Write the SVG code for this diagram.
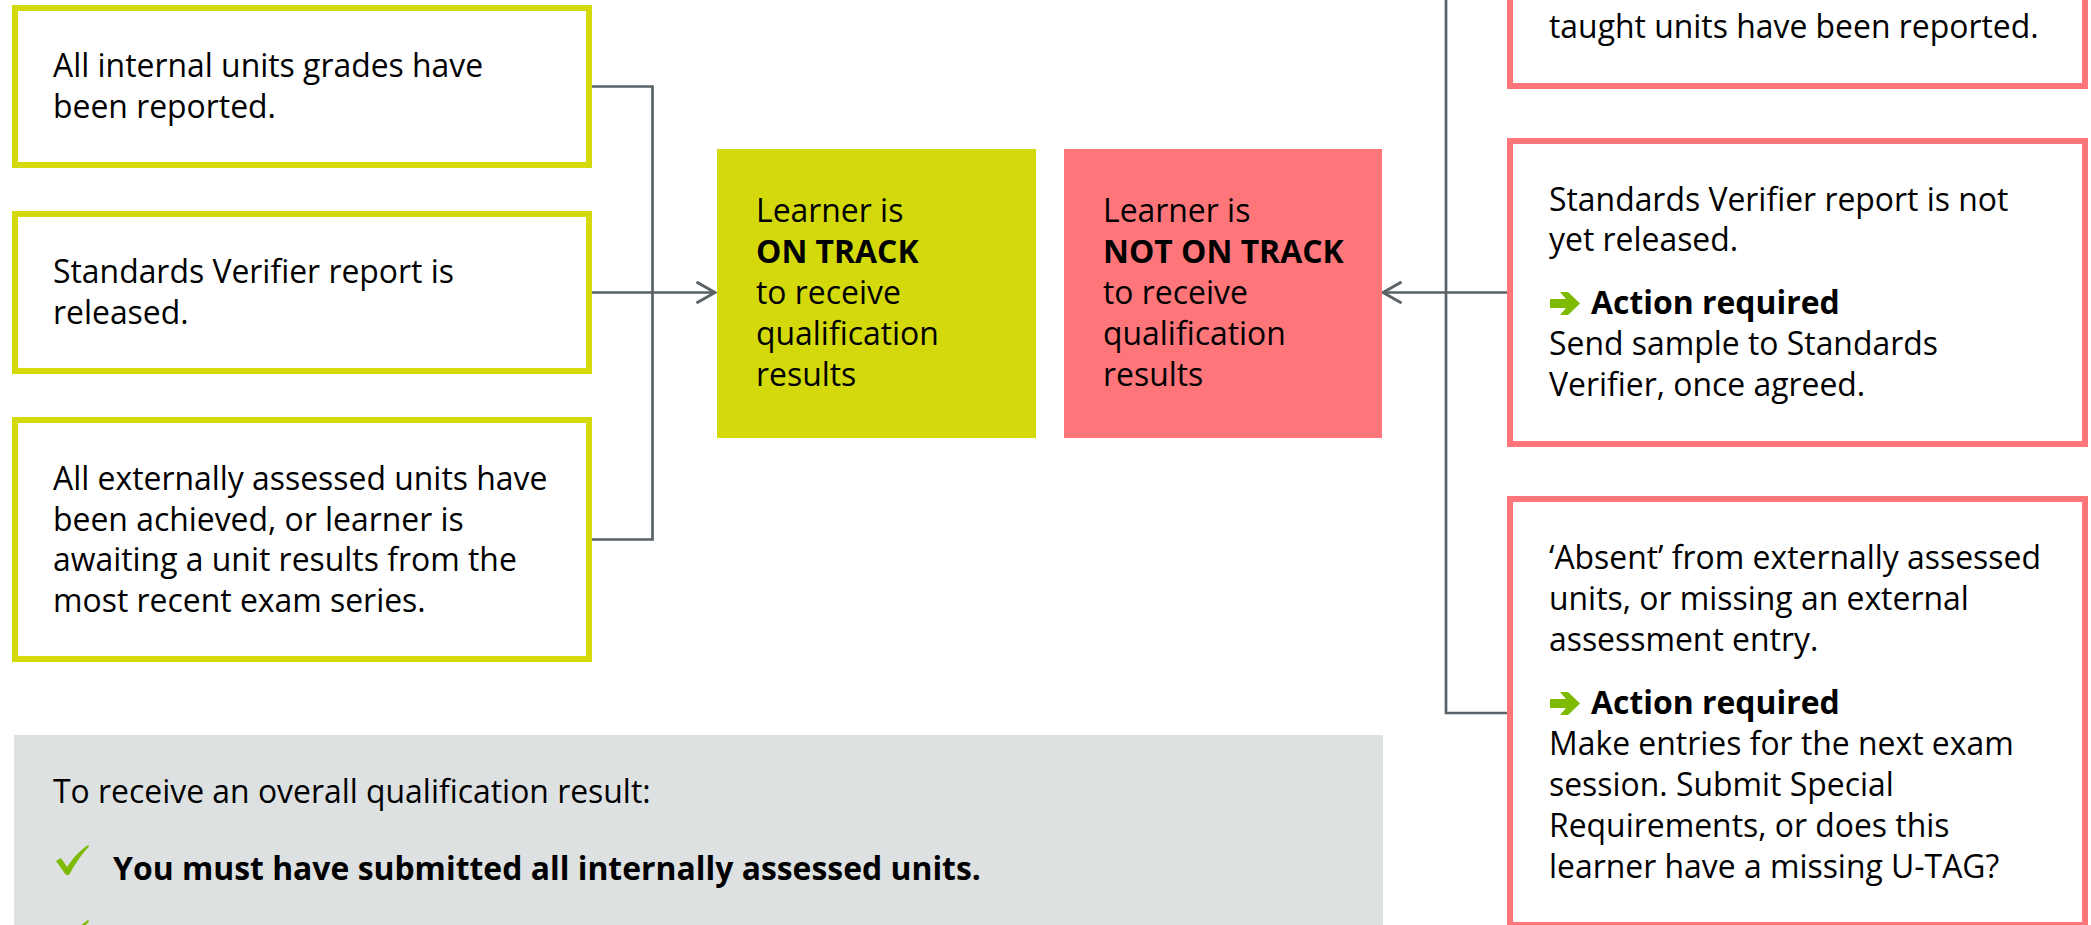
<svg xmlns="http://www.w3.org/2000/svg" width="2091" height="925" viewBox="0 0 2091 925">
<style>
.t{font-family:"Open Sans","Noto Sans","Liberation Sans",sans-serif;font-size:31.9px;fill:#000}
.b{font-weight:700}
.gbox{fill:#fff;stroke:#D4D90C;stroke-width:6}
.pbox{fill:#fff;stroke:#FF767A;stroke-width:6}
.conn{fill:none;stroke:#596266;stroke-width:2.7}
.icon{fill:#7DBA00}
</style>
<defs>
<marker id="chev" markerUnits="userSpaceOnUse" viewBox="0 0 22 24" markerWidth="22" markerHeight="24" refX="20" refY="12" orient="auto">
<path d="M1.5,1.5 L20,12 L1.5,22.5" fill="none" stroke="#596266" stroke-width="3"/>
</marker>
</defs>
<rect x="0" y="0" width="2091" height="925" fill="#fff"/>

<g id="connectors">
<path class="conn" d="M589,86.5 H652.5 V539.5 H589"/>
<path class="conn" d="M589,292.5 H715" marker-end="url(#chev)"/>
<path class="conn" d="M1446,0 V713 H1507"/>
<path class="conn" d="M1507,292.5 H1383" marker-end="url(#chev)"/>
</g>

<g id="cond-internal">
<rect class="gbox" x="15" y="8" width="574" height="157"/>
<text class="t" x="53"><tspan x="53" y="77">All internal units grades have</tspan><tspan x="53" y="118">been reported.</tspan></text>
</g>
<g id="cond-sv">
<rect class="gbox" x="15" y="214" width="574" height="157"/>
<text class="t"><tspan x="53" y="283">Standards Verifier report is</tspan><tspan x="53" y="324">released.</tspan></text>
</g>
<g id="cond-external">
<rect class="gbox" x="15" y="420" width="574" height="239"/>
<text class="t"><tspan x="53" y="490">All externally assessed units have</tspan><tspan x="53" y="530.5">been achieved, or learner is</tspan><tspan x="53" y="571">awaiting a unit results from the</tspan><tspan x="53" y="611.5">most recent exam series.</tspan></text>
</g>

<g id="on-track">
<rect x="717" y="149" width="319" height="289" fill="#D4D90C"/>
<text class="t"><tspan x="756" y="222">Learner is</tspan><tspan x="756" y="263" class="b">ON TRACK</tspan><tspan x="756" y="304">to receive</tspan><tspan x="756" y="345">qualification</tspan><tspan x="756" y="386">results</tspan></text>
</g>
<g id="not-on-track">
<rect x="1064" y="149" width="318" height="289" fill="#FF767A"/>
<text class="t"><tspan x="1103" y="222">Learner is</tspan><tspan x="1103" y="263" class="b">NOT ON TRACK</tspan><tspan x="1103" y="304">to receive</tspan><tspan x="1103" y="345">qualification</tspan><tspan x="1103" y="386">results</tspan></text>
</g>

<g id="issue-taught">
<rect class="pbox" x="1510" y="-100" width="575" height="186"/>
<text class="t" x="1549" y="38">taught units have been reported.</text>
</g>
<g id="issue-sv">
<rect class="pbox" x="1510" y="141" width="575" height="303"/>
<text class="t"><tspan x="1549" y="211">Standards Verifier report is not</tspan><tspan x="1549" y="251">yet released.</tspan></text>
<path class="icon" d="M1550,299 H1566 L1560,292 H1568 L1580,303.5 L1568,315 H1560 L1566,308 H1550 Z"/>
<text class="t b" x="1591" y="314">Action required</text>
<text class="t"><tspan x="1549" y="355">Send sample to Standards</tspan><tspan x="1549" y="396">Verifier, once agreed.</tspan></text>
</g>
<g id="issue-absent">
<rect class="pbox" x="1510" y="499" width="575" height="426"/>
<text class="t"><tspan x="1549" y="569">‘Absent’ from externally assessed</tspan><tspan x="1549" y="610">units, or missing an external</tspan><tspan x="1549" y="651">assessment entry.</tspan></text>
<path class="icon" d="M1550,699 H1566 L1560,692 H1568 L1580,703.5 L1568,715 H1560 L1566,708 H1550 Z"/>
<text class="t b" x="1591" y="714">Action required</text>
<text class="t"><tspan x="1549" y="755">Make entries for the next exam</tspan><tspan x="1549" y="796">session. Submit Special</tspan><tspan x="1549" y="837">Requirements, or does this</tspan><tspan x="1549" y="878">learner have a missing U-TAG?</tspan></text>
</g>

<g id="requirements-panel">
<rect x="14" y="735" width="1369" height="200" fill="#DDE1E2"/>
<text class="t" x="53" y="803">To receive an overall qualification result:</text>
<path class="icon" d="M56,861 L61,858 L67,867 Q76,853 88,845 L89,846.5 Q78,858 69,875 H66 Z"/>
<text class="t b" x="113" y="880">You must have submitted all internally assessed units.</text>
<path class="icon" d="M56,936 L61,933 L67,942 Q76,928 88,920 L89,921.5 Q78,933 69,950 H66 Z"/>
</g>
</svg>
